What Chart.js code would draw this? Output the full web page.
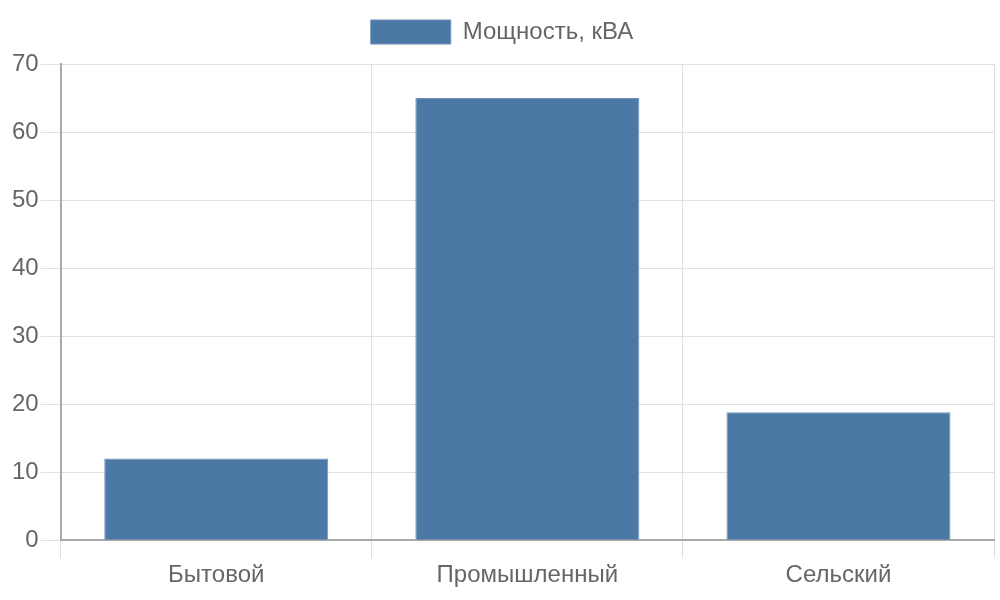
<!DOCTYPE html>
<html><head><meta charset="utf-8">
<script src="https://cdn.jsdelivr.net/npm/chart.js@4/dist/chart.umd.min.js"></script>
<style>html,body{margin:0;padding:0;background:#fff}#w{width:1000px;height:600px}</style>
</head><body><div id="w"><canvas id="c"></canvas></div>
<script>
const categories = ["Бытовой", "Промышленный", "Сельский"];
const seriesLabel = "Мощность, кВА";
const values = [12, 65, 18.8];

Chart.defaults.font.family = "'Liberation Sans', Arial, sans-serif";
Chart.defaults.font.size = 24;
Chart.defaults.color = "#666";
const legendMargin = {
  id: 'legendMargin',
  beforeInit(chart) {
    const origFit = chart.legend.fit;
    chart.legend.fit = function () { origFit.bind(chart.legend)(); this.height += 10; };
  }
};
new Chart(document.getElementById('c'), {
  type: 'bar',
  data: { labels: categories, datasets: [{ label: seriesLabel, data: values,
    backgroundColor: '#4c78a6', borderColor: '#6a90bb', borderWidth: 1 }] },
  options: {
    responsive: true, maintainAspectRatio: false, animation: false,
    layout: { padding: { left: 10, right: 6, bottom: 7, top: 10 } },
    plugins: { legend: { labels: { boxWidth: 80, padding: 10, font: { size: 24 } } }, tooltip: { enabled: false } },
    scales: {
      y: { min: 0, max: 70, ticks: { stepSize: 10, font: { size: 24 }, padding: 2 },
           grid: { color: '#e0e0e0', lineWidth: 1, tickLength: 20 }, border: { color: '#aaa', width: 2 } },
      x: { ticks: { font: { size: 24 }, padding: 3 }, grid: { color: '#e0e0e0', tickLength: 18 }, border: { color: '#aaa', width: 2 } }
    }
  },
  plugins: [legendMargin]
});
</script></body></html>
